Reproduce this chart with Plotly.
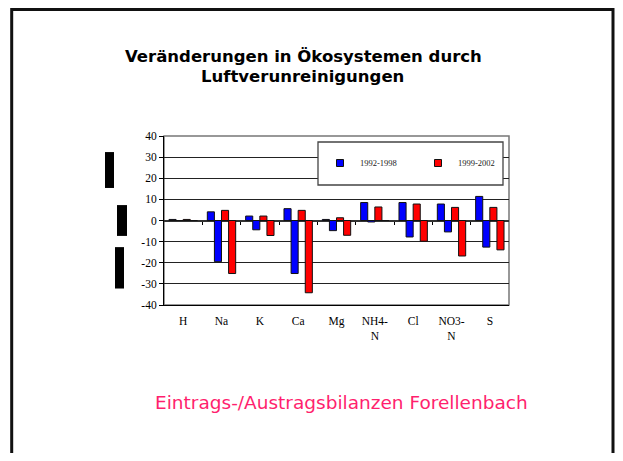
import plotly.graph_objects as go

# ── data ──────────────────────────────────────────────────────────────────────
categories = ["H", "Na", "K", "Ca", "Mg", "NH4-<br>N", "Cl", "NO3-<br>N", "S"]
series_names = ["1992-1998", "1999-2002"]
p1_in = [0.5, 4.1, 2.1, 5.6, 0.5, 8.5, 8.5, 7.8, 11.4]
p1_out = [0, -19.5, -4.4, -25.1, -4.8, -0.7, -7.8, -5.4, -12.6]
p2_in = [0.5, 4.8, 2.1, 4.8, 1.3, 6.4, 7.8, 6.2, 6.2]
p2_out = [0, -25.1, -7.1, -34.2, -7.0, 0, -9.8, -16.8, -13.9]
y_ticks = [-40, -30, -20, -10, 0, 10, 20, 30, 40]
y_ticktext = [str(v) for v in y_ticks]

BLUE, RED = "#0000ff", "#ff0000"
SERIF = "Liberation Serif"
SANS = "DejaVu Sans"

# the page's default body margin shifts the figure by OFF px;
# keep the figure inside the 623x461 window
OFF = 8
FIG_W, FIG_H = 607, 445
# plot area in window pixels
L, R, T, B = 164, 509, 136, 305


def px(x):
    return (x - L) / (R - L)


def py(y):
    return (B - y) / (B - T)


fig = go.Figure()
outline = dict(color="#111", width=1)
for vals, color in [(p1_in, BLUE), (p1_out, BLUE), (p2_in, RED), (p2_out, RED)]:
    fig.add_trace(go.Bar(x=categories, y=vals, marker=dict(color=color, line=outline),
                         showlegend=False))

# legend proxies (small squares like the original); they also carry the
# category-boundary tick axis drawn along the zero line
for name, color in zip(series_names, [BLUE, RED]):
    fig.add_trace(go.Scatter(x=[None], y=[None], mode="markers", name=name, xaxis="x2",
                             marker=dict(symbol="square", size=7, color=color,
                                         line=dict(color="#111", width=1))))

shapes = [
    # page frame (right edge kept inside the figure)
    dict(type="rect", xref="paper", yref="paper", x0=px(11.7), x1=px(613),
         y0=py(480), y1=py(9.5), line=dict(color="#111", width=3), layer="below"),
    # plot border
    dict(type="rect", xref="paper", yref="paper", x0=0, x1=1, y0=0, y1=1,
         line=dict(color="#777", width=1.5), layer="below"),
    # legend box
    dict(type="rect", xref="paper", yref="paper", x0=px(318), x1=px(503),
         y0=py(185), y1=py(142), fillcolor="white",
         line=dict(color="#444", width=1.3), layer="above"),
]
# garbled y-axis title (rendered as black blocks in the original)
for x0, x1, y0, y1 in [(105, 114, 15.4, 32.4), (117, 127, -7.3, 7.3), (115, 124, -32.2, -12.6)]:
    shapes.append(dict(type="rect", xref="paper", yref="y", x0=px(x0), x1=px(x1),
                       y0=y0, y1=y1, fillcolor="black", line_width=0, layer="above"))

annotations = [
    dict(text="<b>Veränderungen in Ökosystemen durch</b>", x=px(303), y=py(56)),
    dict(text="<b>Luftverunreinigungen</b>", x=px(302), y=py(76)),
]
for a in annotations:
    a.update(font=dict(family=SANS, size=16.5, color="black"))
annotations.append(dict(text="Eintrags-/Austragsbilanzen Forellenbach",
                        x=px(341), y=py(402),
                        font=dict(family=SANS, size=18.5, color="#ff1f6e")))
for a in annotations:
    a.update(xref="paper", yref="paper", showarrow=False,
             xanchor="center", yanchor="middle")

fig.update_layout(
    width=FIG_W, height=FIG_H,
    margin=dict(l=L - OFF, r=OFF + FIG_W - R, t=T - OFF, b=OFF + FIG_H - B, pad=0),
    paper_bgcolor="white", plot_bgcolor="white",
    barmode="group", bargap=0.26, bargroupgap=0,
    showlegend=True,
    legend=dict(orientation="h", x=px(320), y=py(163), xanchor="left", yanchor="middle",
                bgcolor="rgba(0,0,0,0)", font=dict(family=SERIF, size=8.5, color="#222"),
                entrywidth=53, entrywidthmode="pixels", itemwidth=30),
    xaxis=dict(type="category", showline=True, linecolor="black", linewidth=1,
               ticks="", showgrid=False, ticklabelstandoff=5,
               tickfont=dict(family=SERIF, size=11.5, color="black")),
    xaxis2=dict(overlaying="x", anchor="free", position=0.5, type="linear",
                range=[-0.5, len(categories) - 0.5],
                tickvals=[i + 0.5 for i in range(len(categories) - 1)],
                ticks="outside", ticklen=3, tickcolor="black", showticklabels=False,
                showgrid=False, showline=False, zeroline=False),
    yaxis=dict(range=[-40, 40], tickvals=y_ticks, ticktext=y_ticktext,
               showgrid=True, gridcolor="#222", gridwidth=1,
               zeroline=True, zerolinecolor="#333", zerolinewidth=1.5,
               showline=True, linecolor="black", linewidth=1,
               ticks="outside", ticklen=4, tickcolor="black",
               tickfont=dict(family=SERIF, size=11.5, color="black")),
    shapes=shapes,
    annotations=annotations,
)

fig.write_html("out.html")
